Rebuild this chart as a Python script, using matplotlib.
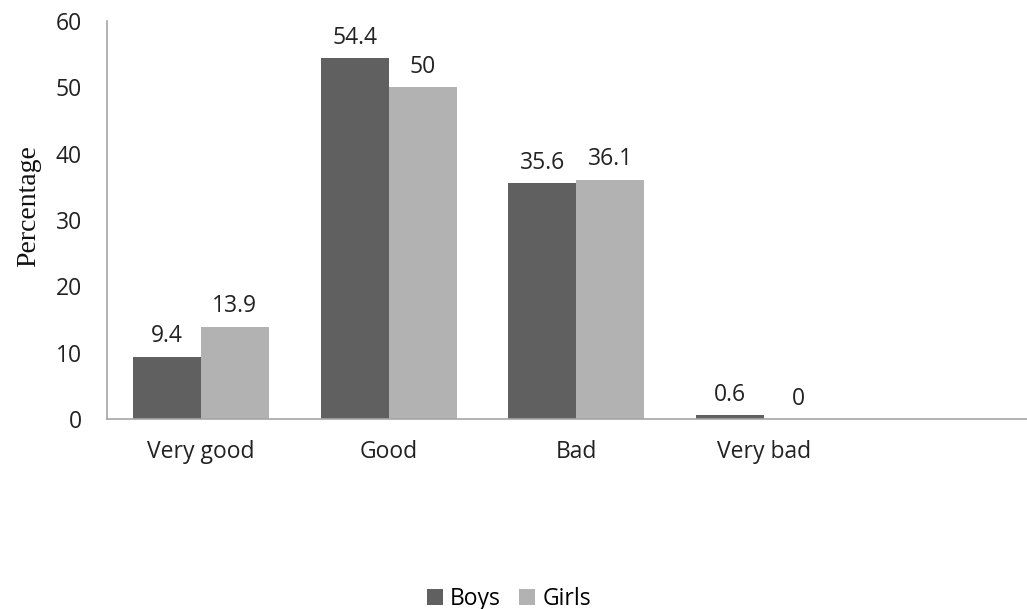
import matplotlib.pyplot as plt
import numpy as np

categories = ["Very good", "Good", "Bad", "Very bad"]
boys = [9.4, 54.4, 35.6, 0.6]
girls = [13.9, 50, 36.1, 0]
yticks = [0, 10, 20, 30, 40, 50, 60]

plt.rcParams['font.family'] = ['Open Sans', 'DejaVu Sans']
fs = 16.5

fig = plt.figure(figsize=(10.27, 6.09), dpi=100)
ax = fig.add_axes([107 / 1027, 1 - 419 / 609, 1 - 107 / 1027, (419 - 21) / 609])

x = np.arange(len(categories))
w = 68 / 187.7
b1 = ax.bar(x - w / 2, boys, w, color="#606060", label="Boys")
b2 = ax.bar(x + w / 2, girls, w, color="#b2b2b2", label="Girls")

for bars in (b1, b2):
    for rect in bars:
        h = rect.get_height()
        ax.annotate(f"{h:g}", (rect.get_x() + rect.get_width() / 2, h),
                    xytext=(0, 6), textcoords="offset points",
                    ha="center", va="bottom", fontsize=fs, color="#222222")

ax.set_xlim(-0.5, (1027 - 107) / 187.7 - 0.5)
ax.set_ylim(0, 60)
ax.set_yticks(yticks)
ax.set_xticks(x)
ax.set_xticklabels(categories)
ax.tick_params(axis="both", length=0, labelsize=fs, colors="#222222")
ax.tick_params(axis="y", pad=18)
ax.tick_params(axis="x", pad=15)
for s in ("top", "right"):
    ax.spines[s].set_visible(False)
for s in ("left", "bottom"):
    ax.spines[s].set_color("#a6a6a6")
    ax.spines[s].set_linewidth(1.2)

ax.set_ylabel("Percentage", family="Liberation Serif", fontsize=20, color="#111111")
ax.yaxis.set_label_coords(-0.071, 0.535)

fig.legend(handles=[b1, b2], loc="center", bbox_to_anchor=(509 / 1027, 1 - 599 / 609),
           ncol=2, frameon=False, fontsize=fs, handlelength=0.7, handleheight=0.7,
           handletextpad=0.3, columnspacing=0.8)

fig.savefig("out.png", dpi=100)
